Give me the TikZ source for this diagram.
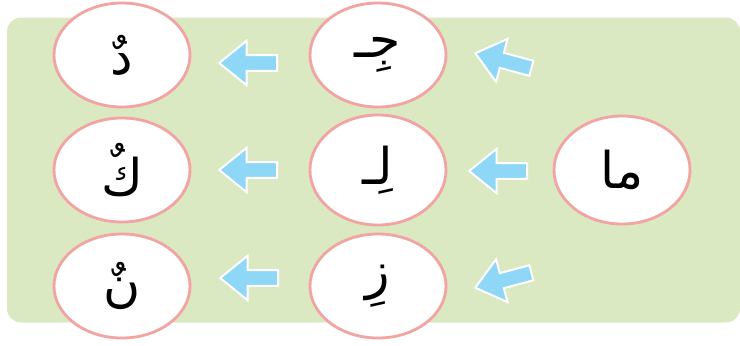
\documentclass[tikz,border=0pt]{standalone}
\usepackage{fontspec}
\newfontfamily\arabicfont[Script=Arabic]{DejaVu Sans}
\TeXXeTstate=1
\usetikzlibrary{shapes.geometric,shapes.arrows}
\definecolor{panelgreen}{RGB}{219,233,195}
\definecolor{ringpink}{RGB}{242,164,162}
\definecolor{arrowblue}{RGB}{143,215,246}
\begin{document}
\begin{tikzpicture}[x=0.025cm,y=-0.025cm]
  \tikzstyle{letter}=[ellipse,draw=ringpink,line width=2pt,fill=white,inner sep=0pt,
                      minimum width=3.4cm,minimum height=2.6cm,font=\arabicfont\fontsize{36}{42}\selectfont]
  \tikzstyle{fatarrow}=[single arrow,fill=arrowblue,draw=white,line width=1.4pt,inner sep=0.17cm,
                        minimum height=1.45cm,single arrow head extend=0.36cm,single arrow tip angle=78]
  \def\lx{122} % left column
  \def\mx{378} % middle column
  \useasboundingbox (0,0) rectangle (740,345);
  \fill[panelgreen,rounded corners=0.35cm] (7,17.5) rectangle (740,322.5);
  % letters
  \node[letter] (dal) at (\lx,55) {\beginR دٌ\endR};
  \node[letter] (kaf) at (\lx,170) {\beginR كٌ\endR};
  \node[letter] (nun) at (\lx,286) {\beginR نٌ\endR};
  \node[letter] (jim) at (\mx,55) {\beginR جِـ\endR};
  \node[letter,minimum height=2.75cm] (lam) at (\mx,170) {\beginR لِـ\endR};
  \node[letter] (zay) at (\mx,286) {\beginR زِ\endR};
  \node[letter,minimum height=2.7cm] (ma) at (622,170) {\beginR ما\endR};
  % arrows
  \node[fatarrow,rotate=180] (arrdal) at (253,63) {};
  \node[fatarrow,rotate=180] (arrkaf) at (253,170) {};
  \node[fatarrow,rotate=180] (arrnun) at (254,278) {};
  \node[fatarrow,rotate=165] (arrjim) at (508,62) {};
  \node[fatarrow,rotate=180] (arrlam) at (503,171) {};
  \node[fatarrow,rotate=195] (arrzay) at (508,279) {};
\end{tikzpicture}
\end{document}
